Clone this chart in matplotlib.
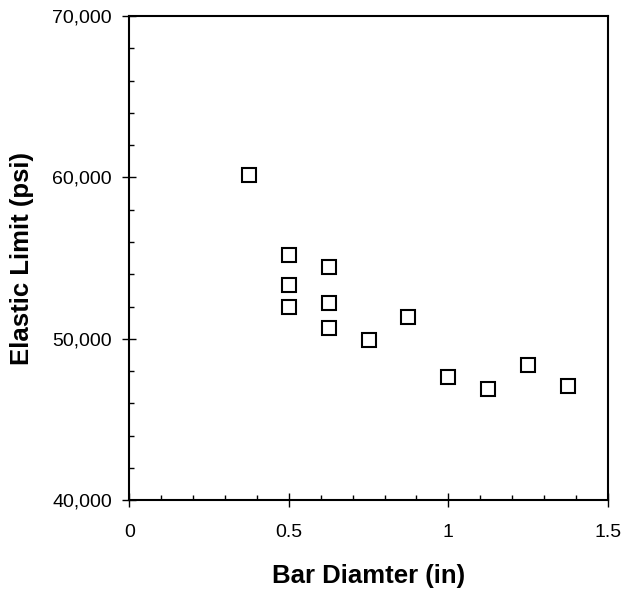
import matplotlib
matplotlib.use("Agg")
import matplotlib.pyplot as plt
from matplotlib.ticker import MultipleLocator, FuncFormatter

plt.rcParams['font.family'] = ['Liberation Sans', 'DejaVu Sans']

bar_diameter = [0.375, 0.5, 0.5, 0.5, 0.625, 0.625, 0.625, 0.75, 0.875, 1.0, 1.125, 1.25, 1.375]
elastic_limit = [60150, 55200, 53350, 51950, 54470, 52250, 50700, 49900, 51350, 47650, 46880, 48360, 47060]

fig = plt.figure(figsize=(6.31, 5.92), dpi=100)
ax = fig.add_axes([0.2052, 0.1549, 0.963 - 0.2052, 0.973 - 0.1549])

ax.plot(bar_diameter, elastic_limit, linestyle='none', marker='s', markersize=10.5,
        markerfacecolor='white', markeredgecolor='black', markeredgewidth=1.5)

ax.set_xlim(0, 1.5)
ax.set_ylim(40000, 70000)
ax.xaxis.set_major_locator(MultipleLocator(0.5))
ax.xaxis.set_minor_locator(MultipleLocator(0.1))
ax.yaxis.set_major_locator(MultipleLocator(10000))
ax.yaxis.set_minor_locator(MultipleLocator(2000))
ax.xaxis.set_major_formatter(FuncFormatter(lambda v, p: f"{v:g}"))
ax.yaxis.set_major_formatter(FuncFormatter(lambda v, p: f"{int(v):,}"))

ax.tick_params(which='major', direction='inout', length=9.5, width=1, labelsize=14)
ax.tick_params(axis='y', which='major', pad=8)
ax.tick_params(axis='x', which='major', pad=12)
ax.tick_params(which='minor', direction='in', length=3.5, width=1)
for s in ax.spines.values():
    s.set_linewidth(1.5)

ax.set_xlabel('Bar Diamter (in)', fontsize=18.5, fontweight='bold', va='center')
ax.set_ylabel('Elastic Limit (psi)', fontsize=18.5, fontweight='bold', va='center')
ax.xaxis.set_label_coords(0.5, -0.156)
ax.yaxis.set_label_coords(-0.225, 0.5)

fig.savefig('out.png', dpi=100)
